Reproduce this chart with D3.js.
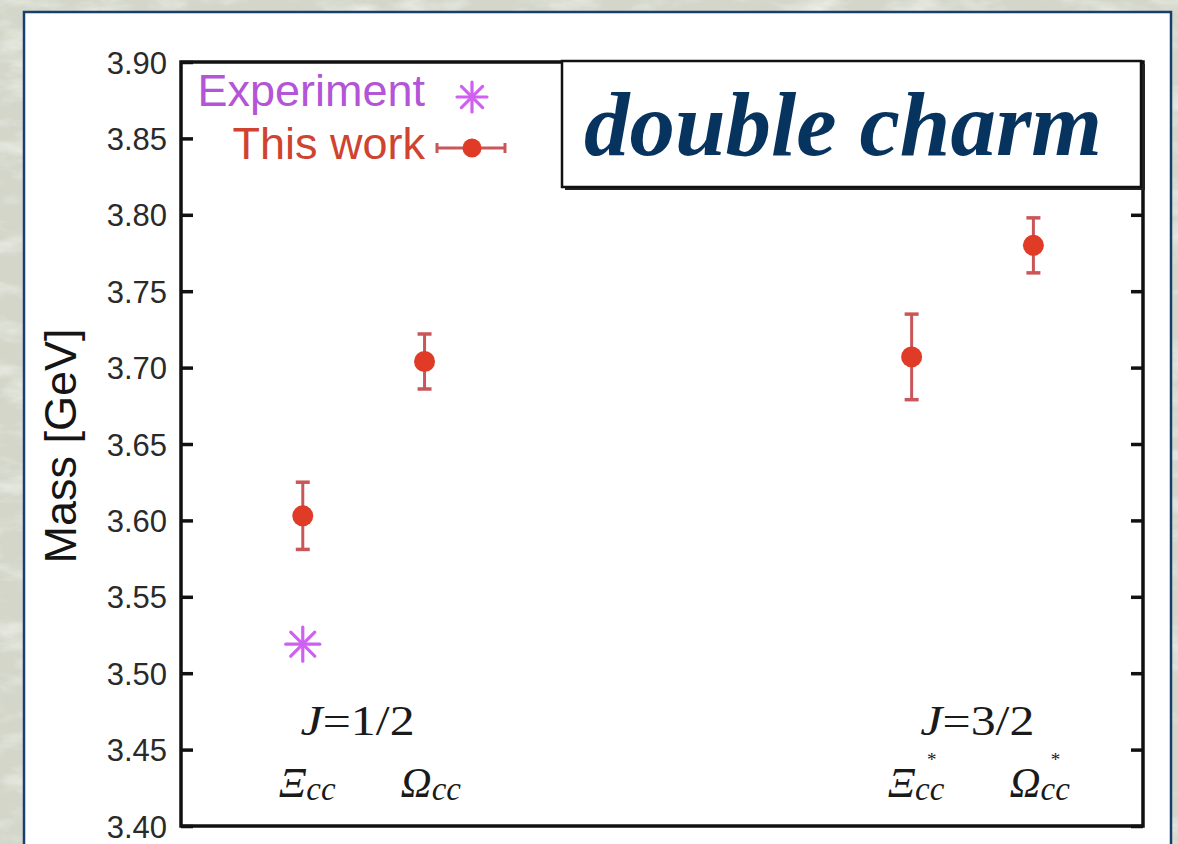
<!DOCTYPE html>
<html>
<head>
<meta charset="utf-8">
<script src="https://cdn.jsdelivr.net/npm/d3@7"></script>
<style>
  html, body { margin: 0; padding: 0; background: #d7dacd; }
  svg { display: block; }
</style>
</head>
<body>
<svg id="chart" width="1178" height="844"></svg>
<script>
// Double-charm baryon masses: lattice results vs. experiment
const categories = ["Ξcc", "Ωcc", "Ξcc*", "Ωcc*"];
const categorySlots = [1, 2, 6, 7];
const massThisWork = [3.603, 3.704, 3.707, 3.780];
const errThisWork = [0.022, 0.018, 0.028, 0.018];
const expCategories = ["Ξcc"];
const massExperiment = [3.519];
const spinGroups = ["J=1/2", "J=3/2"];
const spinGroupSlots = [1.45, 6.54];
const yTicks = [3.40, 3.45, 3.50, 3.55, 3.60, 3.65, 3.70, 3.75, 3.80, 3.85, 3.90];
const legendLabels = ["Experiment", "This work"];
const titleText = "double charm";

const svg = d3.select("#chart");
const W = 1178, H = 844;

// textured backdrop
const defs = svg.append("defs");
const tex = defs.append("filter").attr("id", "marble").attr("x", 0).attr("y", 0).attr("width", "100%").attr("height", "100%");
tex.append("feTurbulence").attr("type", "fractalNoise").attr("baseFrequency", "0.02 0.05").attr("numOctaves", 4).attr("seed", 7).attr("result", "n");
tex.append("feColorMatrix").attr("in", "n").attr("type", "matrix")
  .attr("values", "0 0 0 0 0.93  0 0 0 0 0.94  0 0 0 0 0.90  1.6 0 0 0 -0.75");
svg.append("rect").attr("width", W).attr("height", H).attr("fill", "#d3d6c9");
svg.append("rect").attr("width", W).attr("height", H).attr("filter", "url(#marble)");

// white panel
svg.append("rect").attr("x", 24).attr("y", 12).attr("width", 1147).attr("height", 900)
  .attr("fill", "#ffffff").attr("stroke", "#173f6e").attr("stroke-width", 2.5);

const margin = { left: 181, top: 62, right: 1143, bottom: 826 };
const x = d3.scaleLinear().domain([0, 7.9]).range([margin.left, margin.right]);
const y = d3.scaleLinear().domain([3.40, 3.90]).range([margin.bottom, margin.top]);

const g = svg.append("g");

// y axes (ticks pointing inward on both sides)
const leftAxis = d3.axisLeft(y).tickValues(yTicks).tickFormat(d3.format(".2f"))
  .tickSizeInner(-12).tickSizeOuter(0).tickPadding(14);
const la = g.append("g").attr("transform", `translate(${margin.left},0)`).call(leftAxis);
la.select(".domain").remove();
la.selectAll(".tick line").attr("stroke", "#111").attr("stroke-width", 3.5);
la.selectAll(".tick text").attr("fill", "#2a2a2a")
  .style("font-family", "'Liberation Sans', Arial, sans-serif").style("font-size", "31px")
  .attr("dy", "0.36em");

const rightAxis = d3.axisRight(y).tickValues(yTicks).tickFormat("")
  .tickSizeInner(-12).tickSizeOuter(0);
const ra = g.append("g").attr("transform", `translate(${margin.right},0)`).call(rightAxis);
ra.select(".domain").remove();
ra.selectAll(".tick line").attr("stroke", "#111").attr("stroke-width", 3.5);

// frame
g.append("rect").attr("x", margin.left).attr("y", margin.top)
  .attr("width", margin.right - margin.left).attr("height", margin.bottom - margin.top)
  .attr("fill", "none").attr("stroke", "#111").attr("stroke-width", 3.5);

// axis title
g.append("text").attr("transform", `translate(76,446) rotate(-90)`)
  .attr("text-anchor", "middle").attr("fill", "#151515")
  .style("font-family", "'Liberation Sans', Arial, sans-serif").style("font-size", "45px")
  .text("Mass [GeV]");

const red = "#e03b26", barRed = "#c9575a", violet = "#d060f2";

// star marker (8-arm asterisk)
function star(sel, cx, cy, r) {
  const gg = sel.append("g").attr("transform", `translate(${cx},${cy})`)
    .attr("stroke", violet).attr("stroke-width", 3.2).attr("stroke-linecap", "round");
  [0, 45, 90, 135].forEach(a => {
    const t = a * Math.PI / 180;
    gg.append("line").attr("x1", -r * Math.cos(t)).attr("y1", -r * Math.sin(t))
      .attr("x2", r * Math.cos(t)).attr("y2", r * Math.sin(t));
  });
}

// lattice points with error bars
const pts = categories.map((c, i) => ({ c, slot: categorySlots[i], m: massThisWork[i], e: errThisWork[i] }));
const pg = g.append("g");
pts.forEach(p => {
  const px = x(p.slot);
  pg.append("line").attr("x1", px).attr("x2", px).attr("y1", y(p.m + p.e)).attr("y2", y(p.m - p.e))
    .attr("stroke", barRed).attr("stroke-width", 3);
  [p.m + p.e, p.m - p.e].forEach(v => pg.append("line")
    .attr("x1", px - 7).attr("x2", px + 7).attr("y1", y(v)).attr("y2", y(v))
    .attr("stroke", barRed).attr("stroke-width", 3.5));
  pg.append("circle").attr("cx", px).attr("cy", y(p.m)).attr("r", 10.5).attr("fill", red);
});

// experimental value
expCategories.forEach((c, i) => {
  const slot = categorySlots[categories.indexOf(c)];
  star(g, x(slot), y(massExperiment[i]), 17);
});

// legend
const lf = "'Liberation Sans', Arial, sans-serif";
g.append("text").attr("x", 425).attr("y", 106).attr("text-anchor", "end")
  .attr("fill", "#b355d6").style("font-family", lf).style("font-size", "45px").text(legendLabels[0]);
star(g, 472, 97, 15);
g.append("text").attr("x", 425).attr("y", 159).attr("text-anchor", "end")
  .attr("fill", "#cf4330").style("font-family", lf).style("font-size", "45px").text(legendLabels[1]);
g.append("line").attr("x1", 437).attr("x2", 505).attr("y1", 148).attr("y2", 148)
  .attr("stroke", barRed).attr("stroke-width", 3);
[437, 505].forEach(lx => g.append("line").attr("x1", lx).attr("x2", lx).attr("y1", 143).attr("y2", 153)
  .attr("stroke", barRed).attr("stroke-width", 3));
g.append("circle").attr("cx", 472).attr("cy", 148).attr("r", 9.5).attr("fill", red);

// title box
g.append("rect").attr("x", 565).attr("y", 64).attr("width", 580).attr("height", 126).attr("fill", "#222");
g.append("rect").attr("x", 562).attr("y", 61).attr("width", 579).attr("height", 126)
  .attr("fill", "#ffffff").attr("stroke", "#111").attr("stroke-width", 2.5);
g.append("text").attr("x", 843).attr("y", 155).attr("text-anchor", "middle")
  .attr("fill", "#07335f")
  .style("font-family", "'Liberation Serif', 'Times New Roman', serif")
  .style("font-style", "italic").style("font-weight", "bold").style("font-size", "91px")
  .text(titleText);

// spin group labels
const sf = "'Liberation Serif', 'Times New Roman', serif";
spinGroups.forEach((s, i) => {
  const t = g.append("text").attr("x", x(spinGroupSlots[i])).attr("y", 735).attr("text-anchor", "middle")
    .attr("fill", "#1a1a1a").style("font-family", sf).style("font-size", "42px")
    .attr("textLength", 114).attr("lengthAdjust", "spacingAndGlyphs");
  const [lhs, rhs] = s.split("=");
  t.append("tspan").style("font-style", "italic").text(lhs);
  t.append("tspan").text("=" + rhs);
});

// particle labels
categories.forEach((c, i) => {
  const sym = c[0], starred = c.endsWith("*");
  const lx = x(categorySlots[i]) - 24;
  const t = g.append("text").attr("x", lx).attr("y", 797).attr("fill", "#1a1a1a")
    .style("font-family", sf).style("font-style", "italic").style("font-size", "43px");
  t.append("tspan").text(sym);
  t.append("tspan").attr("dy", 3).style("font-size", "33px").text("cc");
  if (starred) {
    const starDx = sym === "Ξ" ? 44 : 46;
    g.append("text").attr("x", lx + starDx).attr("y", 766).attr("text-anchor", "middle")
      .attr("fill", "#1a1a1a").style("font-family", sf).style("font-size", "19px").text("*");
  }
});
</script>
</body>
</html>
